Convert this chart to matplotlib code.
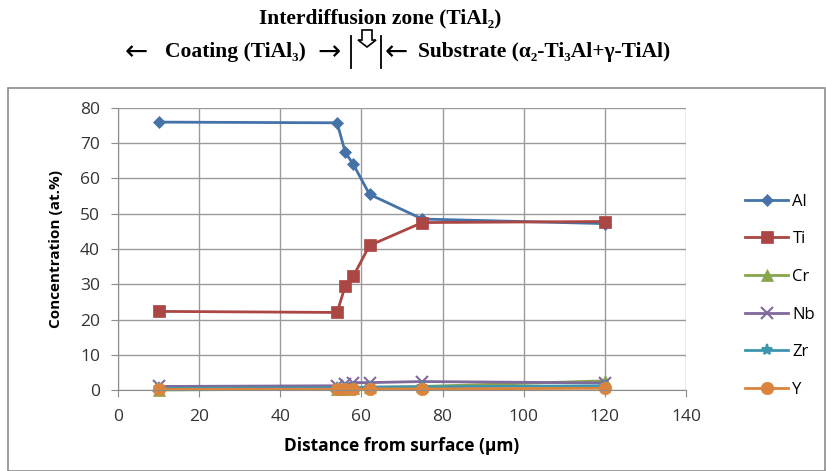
import matplotlib
matplotlib.use('Agg')
import matplotlib.pyplot as plt
from matplotlib.patches import Rectangle, Polygon
from matplotlib.lines import Line2D

# Depth profile data (distance from surface in um, concentration in at.%)
distance = [10, 54, 56, 58, 62, 75, 120]
al = [76.0, 75.8, 67.5, 64.0, 55.5, 48.5, 47.2]
ti = [22.3, 22.0, 29.5, 32.3, 41.0, 47.5, 47.8]
cr = [0.0, 0.3, 0.4, 0.5, 0.8, 1.0, 2.6]
nb = [1.0, 1.2, 1.6, 2.1, 2.1, 2.4, 2.0]
zr = [0.5, 0.6, 0.7, 0.7, 0.8, 0.9, 1.2]
y_el = [0.2, 0.2, 0.2, 0.2, 0.3, 0.3, 0.5]

series = ['Al', 'Ti', 'Cr', 'Nb', 'Zr', 'Y']
values = [al, ti, cr, nb, zr, y_el]
colors = ['#4572A7', '#AA4643', '#89A54E', '#80699B', '#3D96AE', '#DB843D']
markers = ['D', 's', '^', 'x', '*', 'o']
msizes = [6, 9, 9, 9, 8, 9]

W, H = 826, 471
fig = plt.figure(figsize=(W / 100, H / 100), dpi=100)

# outer chart frame
fig.patches.append(Rectangle((8 / W, 0), (W - 9) / W, (H - 88) / H,
                             transform=fig.transFigure, fill=False,
                             edgecolor='#8c8c8c', linewidth=1.2))

ax = fig.add_axes([118 / W, 1 - 390 / H, (686 - 118) / W, (390 - 108) / H])

for name, vals, c, m, ms in zip(series, values, colors, markers, msizes):
    ax.plot(distance, vals, color=c, marker=m, markersize=ms, linewidth=2,
            markeredgewidth=1.5 if m in ('x', '*') else 0.5,
            markeredgecolor=c, label=name, clip_on=False)

ax.set_xlim(0, 140)
ax.set_ylim(0, 80)
ax.set_xticks(range(0, 141, 20))
ax.set_yticks(range(0, 81, 10))
ax.grid(True, color='#9a9a9a', linewidth=1)
ax.set_axisbelow(True)
for s in ['top', 'right']:
    ax.spines[s].set_visible(False)
for s in ['left', 'bottom']:
    ax.spines[s].set_color('#8c8c8c')
ax.tick_params(colors='#8c8c8c', labelcolor='#333333', labelsize=12.5, length=5)
ax.tick_params(axis='x', pad=9)
ax.tick_params(axis='y', pad=8)
for lab in ax.get_xticklabels() + ax.get_yticklabels():
    lab.set_family('Open Sans')

ax.set_xlabel('Distance from surface (µm)', fontsize=12.5, fontweight='bold',
              family='Open Sans', labelpad=8)
ax.set_ylabel('Concentration (at.%)', fontsize=11, fontweight='bold',
              family='Open Sans', labelpad=12)

leg = ax.legend(loc='upper left', bbox_to_anchor=(1.092, 0.72), frameon=False,
                prop={'family': 'Open Sans', 'size': 12}, labelspacing=1.3,
                handlelength=2.6, handletextpad=0.25, borderaxespad=0)

# header annotations
serif = ['Liberation Serif', 'DejaVu Serif']
arrows = ['DejaVu Sans']
fig.text(380 / W, 1 - 18 / H, 'Interdiffusion zone (TiAl₂)', ha='center', va='center',
         family=serif, fontsize=15.5, fontweight='bold')
fig.text(136 / W, 1 - 52 / H, '←', ha='center', va='center', family=arrows,
         fontsize=20)
fig.text(165 / W, 1 - 52 / H, 'Coating (TiAl₃)', ha='left', va='center',
         family=serif, fontsize=15.5, fontweight='bold')
fig.text(329 / W, 1 - 52 / H, '→', ha='center', va='center', family=arrows,
         fontsize=20)
fig.text(396 / W, 1 - 52 / H, '←', ha='center', va='center', family=arrows,
         fontsize=20)
fig.text(418 / W, 1 - 52 / H, 'Substrate (α₂-Ti₃Al+γ-TiAl)', ha='left', va='center',
         family=serif, fontsize=15.5, fontweight='bold')
for xb in (351, 381):
    fig.add_artist(Line2D([xb / W, xb / W], [1 - 36 / H, 1 - 68 / H],
                          transform=fig.transFigure, color='black', linewidth=1.3))
arrow = [(362, 30), (372, 30), (372, 40), (376, 40), (367, 47), (358, 40), (362, 40)]
fig.add_artist(Polygon([(px / W, 1 - py / H) for px, py in arrow], closed=True,
                       transform=fig.transFigure, fill=False, edgecolor='black',
                       linewidth=1.2))

fig.savefig('out.png', dpi=100)
